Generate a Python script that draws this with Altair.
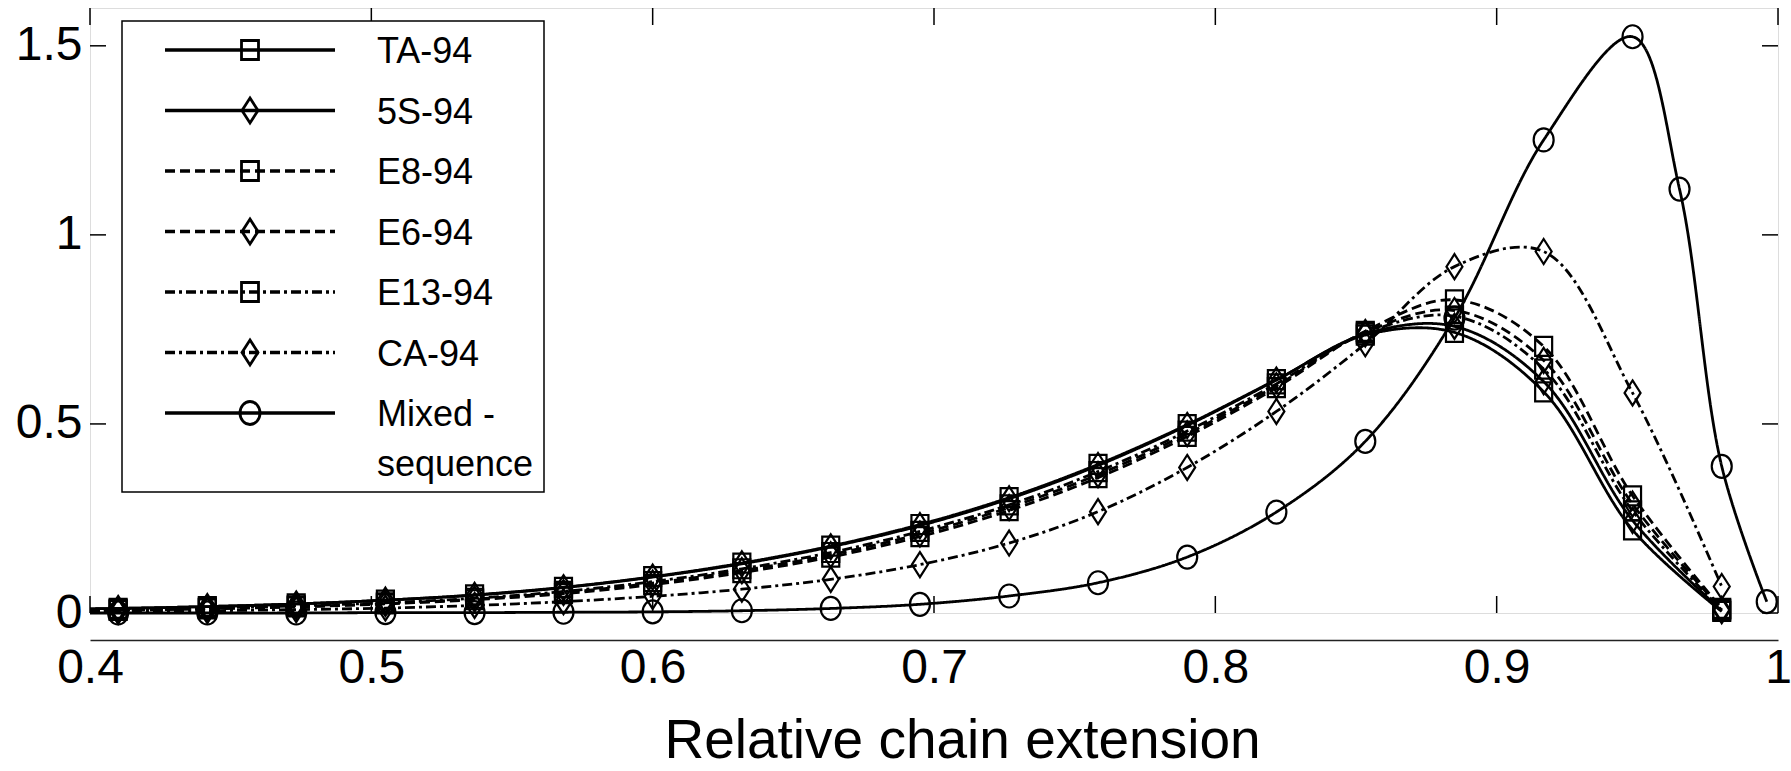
import altair as alt
import pandas as pd

# ---------------- data ----------------
series = ["TA-94", "5S-94", "E8-94", "E6-94", "E13-94", "CA-94", "Mixed - sequence"]
legend_labels = ["TA-94", "5S-94", "E8-94", "E6-94", "E13-94", "CA-94", "Mixed -\nsequence"]

x_grid = [0.41, 0.4417, 0.4733, 0.505, 0.5367, 0.5683, 0.6, 0.6317, 0.6633, 0.695,
          0.7267, 0.7583, 0.79, 0.8217, 0.8533, 0.885, 0.9167, 0.9483, 0.98]

ta_94 = [0.012, 0.017, 0.024, 0.034, 0.048, 0.068, 0.096, 0.132, 0.177, 0.234,
         0.305, 0.393, 0.498, 0.617, 0.735, 0.742, 0.585, 0.22, 0.004]
s5_94 = [0.012, 0.017, 0.024, 0.034, 0.047, 0.067, 0.095, 0.130, 0.175, 0.231,
         0.302, 0.390, 0.496, 0.616, 0.738, 0.758, 0.612, 0.245, 0.006]
e8_94 = [0.007, 0.011, 0.016, 0.024, 0.035, 0.051, 0.075, 0.107, 0.148, 0.202,
         0.271, 0.358, 0.467, 0.596, 0.745, 0.828, 0.705, 0.31, 0.012]
e6_94 = [0.008, 0.012, 0.017, 0.025, 0.037, 0.054, 0.079, 0.112, 0.154, 0.209,
         0.279, 0.366, 0.474, 0.601, 0.742, 0.80, 0.668, 0.288, 0.010]
e13_94 = [0.009, 0.013, 0.019, 0.027, 0.039, 0.057, 0.083, 0.117, 0.160, 0.216,
          0.286, 0.374, 0.481, 0.606, 0.740, 0.785, 0.645, 0.27, 0.008]
ca_94 = [0.004, 0.006, 0.009, 0.013, 0.020, 0.030, 0.044, 0.063, 0.089, 0.128,
         0.185, 0.268, 0.385, 0.533, 0.712, 0.916, 0.956, 0.582, 0.07]

mixed_x = [0.41, 0.4417, 0.4733, 0.505, 0.5367, 0.5683, 0.6, 0.6317, 0.6633, 0.695,
           0.7267, 0.7583, 0.79, 0.8217, 0.8533, 0.885, 0.9167, 0.9483, 0.965, 0.98, 0.996]
mixed_y = [0.0, 0.0, 0.0, 0.001, 0.001, 0.002, 0.003, 0.006, 0.012, 0.023,
           0.045, 0.08, 0.148, 0.267, 0.454, 0.78, 1.251, 1.524, 1.121, 0.388, 0.03]

# curve values where the lines start, at the left edge (x = 0.4)
line_start_x = 0.4
line_start_y = [0.011, 0.011, 0.006, 0.007, 0.008, 0.003, 0.0]

x_ticks = [0.4, 0.5, 0.6, 0.7, 0.8, 0.9, 1.0]
y_ticks = [0, 0.5, 1, 1.5]

# ---------------- tables ----------------
marker_rows = []
for name, ys in zip(series[:6], [ta_94, s5_94, e8_94, e6_94, e13_94, ca_94]):
    for xv, yv in zip(x_grid, ys):
        marker_rows.append({"series": name, "x": xv, "y": yv})
for xv, yv in zip(mixed_x, mixed_y):
    marker_rows.append({"series": series[6], "x": xv, "y": yv})
df_pts = pd.DataFrame(marker_rows)

start_rows = [{"series": n, "x": line_start_x, "y": v} for n, v in zip(series, line_start_y)]
df_lines = pd.concat([pd.DataFrame(start_rows), df_pts], ignore_index=True)

df_legend = pd.DataFrame({"series": series, "label": legend_labels})
df_xt = pd.DataFrame({"v": x_ticks})
df_yt = pd.DataFrame({"v": y_ticks})
df_one = pd.DataFrame({"k": [0]})

# ---------------- styles ----------------
W, H = 1688, 605
FONT = "Liberation Sans"
SQ = "M-0.85,-0.95L0.85,-0.95L0.85,0.95L-0.85,0.95Z"
DIA = "M0,-1.25L0.8,0L0,1.25L-0.8,0Z"
CIRC = "M-1,0A1,1.15,0,1,1,1,0A1,1.15,0,1,1,-1,0Z"

shape_scale = alt.Scale(domain=series, range=[SQ, DIA, SQ, DIA, SQ, DIA, CIRC])
dash_scale = alt.Scale(domain=series, range=[[1, 0], [1, 0], [10, 5], [10, 5],
                                             [10, 4, 3, 4], [10, 4, 3, 4], [1, 0]])
width_scale = alt.Scale(domain=series, range=[2.8, 2.8, 2.4, 2.4, 2.2, 2.2, 2.0])

x_enc = alt.X("x:Q", scale=alt.Scale(domain=[0.4, 1.0], nice=False, zero=False),
              axis=alt.Axis(values=x_ticks, format="~g", title="Relative chain extension",
                            grid=False, ticks=False, domain=True, domainColor="#222",
                            domainWidth=1.5, offset=27, labelPadding=4, labelFlush=False,
                            labelFont=FONT, labelFontSize=48, labelColor="black",
                            titleFont=FONT, titleFontSize=55, titleFontWeight="normal",
                            titleColor="black", titleBaseline="alphabetic", titleY=117,
                            titleX=872))
y_scale = alt.Scale(domain=[0, 1.6], nice=False, zero=False)
y_enc = alt.Y("y:Q", scale=y_scale,
              axis=alt.Axis(values=y_ticks, format="~g", title=None, grid=False,
                            ticks=False, domain=False, labelPadding=8,
                            labelFont=FONT, labelFontSize=48, labelColor="black"))

lines = alt.Chart(df_lines).mark_line(interpolate="catmull-rom", color="black", clip=False).encode(
    x=x_enc, y=y_enc,
    strokeDash=alt.StrokeDash("series:N", scale=dash_scale, legend=None),
    strokeWidth=alt.StrokeWidth("series:N", scale=width_scale, legend=None),
)

points = alt.Chart(df_pts).mark_point(filled=False, color="black", strokeWidth=2.2,
                                      size=400, opacity=1, clip=False).encode(
    x="x:Q", y=alt.Y("y:Q", scale=y_scale),
    shape=alt.Shape("series:N", scale=shape_scale, legend=None),
)

tick_x = alt.X("v:Q", scale=alt.Scale(domain=[0.4, 1.0], nice=False, zero=False))
tick_y = alt.Y("v:Q", scale=y_scale)
ticks_top = alt.Chart(df_xt).mark_rule(color="black", strokeWidth=1.5).encode(
    x=tick_x, y=alt.value(0), y2=alt.value(17))
ticks_bottom = alt.Chart(df_xt).mark_rule(color="black", strokeWidth=1.5).encode(
    x=tick_x, y=alt.value(H), y2=alt.value(H - 17))
ticks_left = alt.Chart(df_yt).mark_rule(color="black", strokeWidth=1.5).encode(
    y=tick_y, x=alt.value(0), x2=alt.value(16))
ticks_right = alt.Chart(df_yt).mark_rule(color="black", strokeWidth=1.5).encode(
    y=tick_y, x=alt.value(W), x2=alt.value(W - 16))

main = alt.layer(lines, points, ticks_top, ticks_bottom, ticks_left, ticks_right)

# ---------------- legend ----------------
leg_y = alt.Y("series:N", scale=alt.Scale(type="point", domain=series, range=[42, 405], padding=0),
              axis=None)
leg_box = alt.Chart(df_one).mark_rect(fill="white", stroke="black", strokeWidth=1.5).encode(
    x=alt.value(32), x2=alt.value(454), y=alt.value(13), y2=alt.value(484))
leg_lines = alt.Chart(df_legend).mark_rule(color="black").encode(
    x=alt.value(75), x2=alt.value(245), y=leg_y,
    strokeDash=alt.StrokeDash("series:N", scale=dash_scale, legend=None),
    strokeWidth=alt.value(3.6))
leg_marks = alt.Chart(df_legend).mark_point(filled=False, color="black", strokeWidth=2.8,
                                            size=400, opacity=1).encode(
    x=alt.value(160), y=leg_y,
    shape=alt.Shape("series:N", scale=shape_scale, legend=None))
leg_text = alt.Chart(df_legend).mark_text(align="left", baseline="alphabetic", dy=13,
                                          font=FONT, fontSize=36, color="black",
                                          lineBreak="\n", lineHeight=50).encode(
    x=alt.value(287), y=leg_y, text="label:N")

legend = alt.layer(leg_box, leg_lines, leg_marks, leg_text)

chart = alt.layer(main, legend).resolve_scale(y="independent").properties(
    width=W, height=H, autosize="none",
    padding={"left": 90, "top": 8, "right": 13, "bottom": 158},
).configure_view(stroke="black", strokeWidth=2).configure(background="white")

chart.save("out.html", embed_options={"renderer": "svg", "actions": False})
